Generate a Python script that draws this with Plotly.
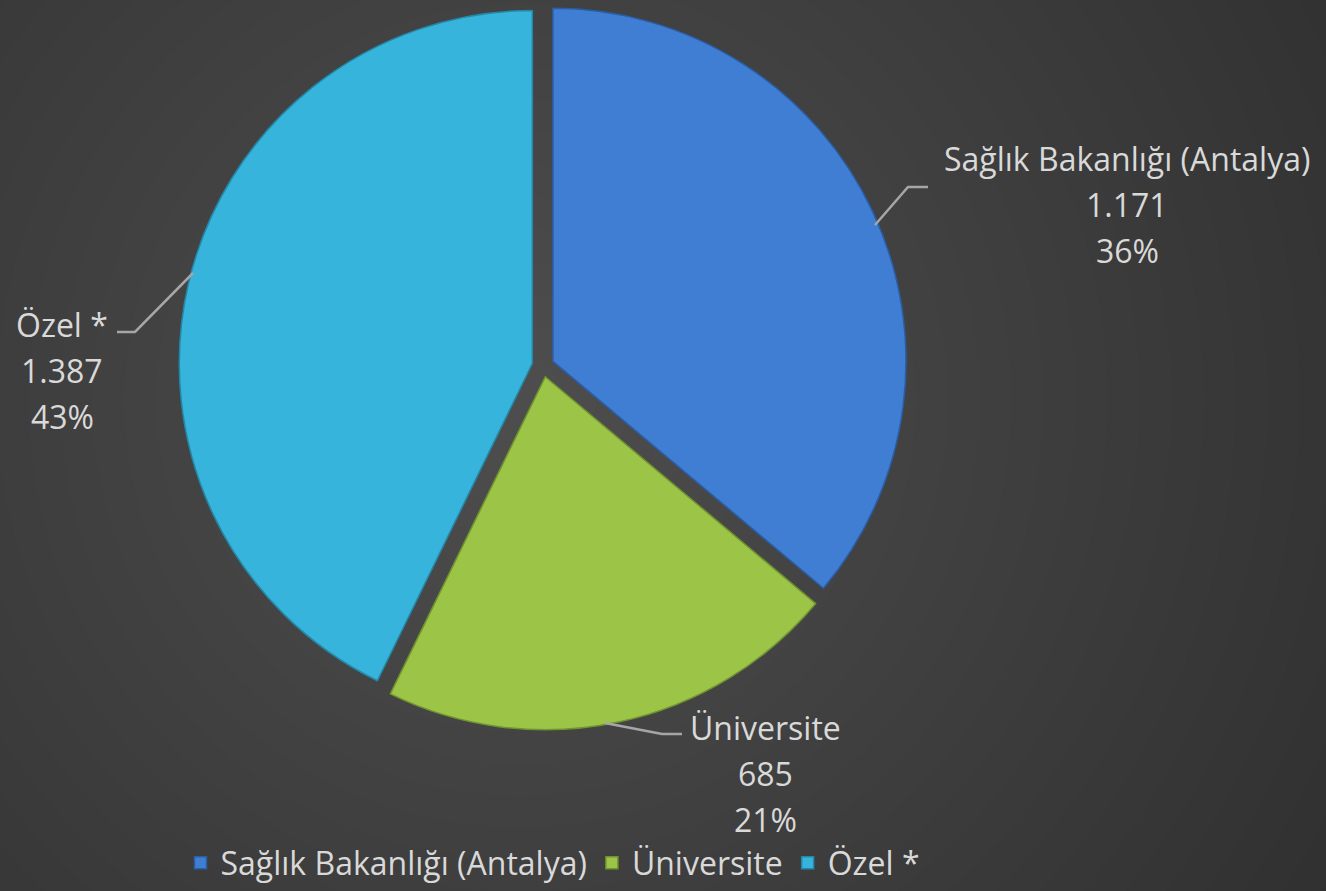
import plotly.graph_objects as go

# data
labels = ["Sağlık Bakanlığı (Antalya)", "Üniversite", "Özel *"]
values = [1171, 685, 1387]
colors = ["#3F7ED2", "#9CC446", "#37B4DB"]
edge_colors = ["#2A5EA8", "#6F9330", "#2388A8"]

W, H = 1326, 891
FONT = "Open Sans"
TXT = "#D9D9D9"


def px(x, y):
    # pixel position -> paper fraction
    return x / W, (H - y) / H


def fmt_tr(v):
    return f"{v:,}".replace(",", ".")


total = sum(values)
pcts = [round(v / total * 100) for v in values]

fig = go.Figure()

fig.add_trace(go.Pie(
    labels=labels,
    values=values,
    sort=False,
    direction="clockwise",
    rotation=0,
    pull=[0.031, 0.031, 0.031],
    textinfo="none",
    hoverinfo="label+value+percent",
    marker=dict(colors=colors, line=dict(color=edge_colors, width=1.5)),
    domain=dict(x=[179 / W, 907 / W], y=[161 / H, 889 / H]),
))

# label block positions (centre of each text line) and leader lines
label_pos = [
    (1127, [157, 203, 248]),
    (766, [725, 771, 817]),
    (62, [322, 368, 414]),
]
leaders = [
    [(875, 225), (908, 187), (928, 187)],
    [(605, 723), (662, 734), (682, 734)],
    [(193, 273), (135, 332), (117, 332)],
]

annotations = []
for i, (cx, ys) in enumerate(label_pos):
    lines = [labels[i], fmt_tr(values[i]), f"{pcts[i]}%"]
    for t, yy in zip(lines, ys):
        ax, ay = px(cx, yy + 2)
        annotations.append(dict(
            x=ax, y=ay, xref="paper", yref="paper", text=t, showarrow=False,
            xanchor="center", yanchor="middle",
            font=dict(family=FONT, size=32, color=TXT),
        ))

shapes = []
# radial background: solid discs, one grey level lighter each step inwards
gx, gy = 520, 400
for k in range(34):
    r = 1100 - k * 32
    g = 44 + k
    x0, y0 = px(gx - r, gy + r)
    x1, y1 = px(gx + r, gy - r)
    shapes.append(dict(
        type="circle", xref="paper", yref="paper", x0=x0, y0=y0, x1=x1, y1=y1,
        fillcolor=f"rgb({g},{g},{g})", line=dict(width=0), layer="below",
    ))

for pts in leaders:
    path = "M " + " L ".join(f"{px(x, y)[0]},{px(x, y)[1]}" for x, y in pts)
    shapes.append(dict(
        type="path", xref="paper", yref="paper", path=path,
        line=dict(color="#A6A6A6", width=2.5),
    ))

fig.update_layout(
    width=W,
    height=H,
    margin=dict(l=0, r=0, t=0, b=0),
    paper_bgcolor="#2A2A2A",
    plot_bgcolor="#2A2A2A",
    annotations=annotations,
    shapes=shapes,
    showlegend=True,
    legend=dict(
        orientation="h",
        x=553 / W, xanchor="center",
        y=(H - 863) / H, yanchor="middle",
        font=dict(family=FONT, size=32, color=TXT),
        bgcolor="rgba(0,0,0,0)",
    ),
)

fig.write_html(
    "out.html",
    config={"displayModeBar": False},
    post_script="document.body.style.margin='0';",
)
